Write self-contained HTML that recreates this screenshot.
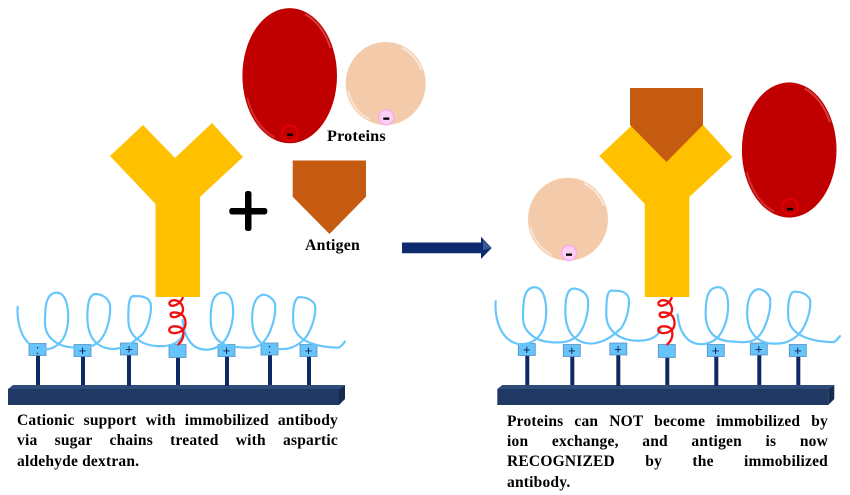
<!DOCTYPE html>
<html><head><meta charset="utf-8"><style>
html,body{margin:0;padding:0;background:#fff}
#p{position:relative;width:850px;height:495px;overflow:hidden;background:#fff;font-family:"Liberation Serif",serif}
svg{position:absolute;left:0;top:0}
.t{position:absolute;width:321px;font-weight:bold;font-size:15.5px;line-height:20.4px;color:#000;letter-spacing:.2px}
.t div{text-align:justify;text-align-last:justify;white-space:nowrap}
.t div.l{text-align-last:left}
</style></head><body><div id="p">
<svg width="850" height="495" viewBox="0 0 850 495">
<defs>
<g id="base">
<polygon points="8,389 13,385 345,385 339,389" fill="#2f4b78"/>
<rect x="8" y="389" width="331" height="16" fill="#1f3864"/>
<polygon points="339,389 345,385 345,399 339,405" fill="#172b4e"/>
<g fill="#0d2a66">
<rect x="36" y="355" width="4" height="30"/><rect x="81" y="356" width="4" height="29"/><rect x="127" y="355" width="4" height="31"/><rect x="176" y="356" width="4" height="29"/><rect x="225" y="356" width="4" height="30"/><rect x="268" y="355" width="4" height="30"/><rect x="307" y="356" width="4" height="29"/>
</g>
<g fill="#66c4fb" stroke="#5a8fc0" stroke-width=".8">
<rect x="29" y="343.500" width="17" height="12"/><rect x="74" y="344.500" width="17" height="12"/><rect x="120.500" y="343" width="17" height="12"/><rect x="169" y="344.500" width="17" height="13"/><rect x="218" y="344.500" width="17" height="12"/><rect x="261" y="343" width="17" height="12"/><rect x="300" y="344.500" width="17" height="12"/>
</g>
</g>
<path id="a" fill="none" stroke="#66c6fb" stroke-width="6.5" stroke-linecap="round" d="M53,80 C50,130 65,195 120,208 C160,213 190,190 200,150 C210,110 205,38 170,38 C135,38 135,90 135,130 C135,170 170,195 200,200 C240,207 270,205 290,190 C320,170 333,110 330,75 C325,50 300,42 285,42 C265,45 262,80 262,110 C262,160 280,205 340,207 C380,205 410,180 430,160 C450,130 455,90 452,70 C445,48 420,48 400,48 C385,50 385,85 385,120 C385,165 420,195 470,198 C500,200 535,195 548,165"/>
<path id="b" fill="none" stroke="#66c6fb" stroke-width="6.5" stroke-linecap="round" d="M548,120 C552,170 575,210 620,209 C660,208 680,180 690,150 C705,110 705,38 670,38 C635,38 632,80 632,120 C632,160 650,195 700,200 C730,203 760,207 780,195 C810,175 830,110 825,70 C815,48 795,42 785,45 C760,55 755,90 757,130 C760,170 785,205 830,207 C860,209 880,205 905,185 C930,165 950,110 945,75 C935,55 910,50 895,52 C880,60 878,100 880,130 C885,175 930,200 1015,203 C1025,200 1030,190 1035,185"/>
<path id="c" fill="none" stroke="#f01010" stroke-width="7" stroke-linecap="round" d="M548,54 C540,72 520,82 510,75 C503,65 518,58 530,62 C545,66 552,85 548,95 C540,110 515,118 512,105 C510,95 530,95 545,103 C560,115 560,140 548,150 C530,165 505,160 508,148 C512,135 535,138 545,145 C555,160 550,180 535,193"/>
<polygon id="y" points="110,156 143,125 175,158 212,123 243,157 200,197 200,297 155.500,297 155.500,204"/>
<g id="red"><ellipse cx="0" cy="0" rx="47.300" ry="67.600" fill="#c00000"/>
<path d="M15.400,-61.500 A45,65.500 0 0 1 40.800,-27.700" fill="none" stroke="#e87070" stroke-width="2" stroke-opacity=".55"/>
<path d="M-42.300,22.400 A45,65.500 0 0 0 -15.400,61.500" fill="none" stroke="#e05050" stroke-width="2" stroke-opacity=".55"/></g>
<g id="pe"><ellipse cx="0" cy="0" rx="40" ry="41.500" fill="#f4cbaa"/>
<path d="M16,-35.800 A38,39.500 0 0 1 35.700,-13.500" fill="none" stroke="#fff" stroke-width="2" stroke-opacity=".55"/>
<path d="M-37.400,6.900 A38,39.500 0 0 0 -16,35.800" fill="none" stroke="#fff" stroke-width="2" stroke-opacity=".45"/></g>
</defs>

<use href="#base"/>
<use href="#base" x="489.300"/>

<g transform="translate(0,280) scale(.3333)"><use href="#a"/><use href="#b"/><use href="#c"/></g>
<g transform="translate(478,274.600) scale(.3333)"><use href="#a"/></g>
<g transform="translate(495,274.500) scale(.3333)"><use href="#b"/></g>
<g transform="translate(489,280) scale(.3333)"><use href="#c"/></g>

<g font-family="'Liberation Sans',sans-serif" font-size="13" text-anchor="middle" fill="#0a2050">
<text x="37.500" y="354">:</text><text x="82.500" y="355">+</text><text x="129" y="353.500">+</text><text x="226.500" y="355">+</text><text x="269.500" y="353">:</text><text x="308.500" y="355">+</text>
<text x="526.800" y="354">+</text><text x="571.800" y="355">+</text><text x="618" y="353.500">+</text><text x="715.500" y="355">+</text><text x="758.800" y="353.500">+</text><text x="797.800" y="355">+</text>
</g>

<use href="#y" fill="#ffc000"/>
<use href="#y" fill="#ffc000" x="489.300"/>
<polygon points="292.700,160.500 366,160.500 366,196.700 329.500,234 292.700,196.700" fill="#c55a11"/>
<polygon points="630,88 703,88 703,125 666.500,162 630,125" fill="#c55a11"/>

<use href="#red" x="289.700" y="75.700"/>
<circle cx="290" cy="133" r="7.800" fill="#c00000" stroke="#f00000" stroke-width="1.400"/>
<rect x="287" y="133.500" width="6" height="2.300" fill="#000"/>

<use href="#pe" x="385.700" y="83.500"/>
<circle cx="386.300" cy="117.300" r="7.500" fill="#fcd0f4" stroke="#f8a8ee" stroke-width="1.300"/>
<rect x="383.300" y="117.500" width="6" height="2.300" fill="#000"/>

<use href="#red" x="789.200" y="150"/>
<circle cx="790" cy="206.700" r="7.800" fill="#c00000" stroke="#f00000" stroke-width="1.400"/>
<rect x="787" y="208" width="6" height="2.300" fill="#000"/>

<use href="#pe" x="568" y="219.200"/>
<circle cx="569" cy="253" r="7.500" fill="#fcd0f4" stroke="#f8a8ee" stroke-width="1.300"/>
<rect x="566" y="253.500" width="6" height="2.300" fill="#000"/>

<rect x="245" y="191" width="6.500" height="40" rx="2.500" fill="#000"/>
<rect x="229.300" y="208" width="38" height="6.500" rx="2.500" fill="#000"/>

<polygon points="402,242.500 481,242.500 481,236.700 491.700,248 481,259 481,253.300 402,253.300" fill="#0e2a6e"/>
<polygon points="483,240 491,248 483,250" fill="#3a5a9a"/>

<text x="327" y="141" font-family="'Liberation Serif',serif" font-weight="bold" font-size="16.200" letter-spacing=".2">Proteins</text>
<text x="305" y="250" font-family="'Liberation Serif',serif" font-weight="bold" font-size="15.800" letter-spacing=".2">Antigen</text>
</svg>
<div class="t" style="left:17px;top:411px"><div>Cationic support with immobilized antibody</div><div>via sugar chains treated with aspartic</div><div class="l">aldehyde dextran.</div></div>
<div class="t" style="left:507px;top:411.500px"><div>Proteins can NOT become immobilized by</div><div>ion exchange, and antigen is now</div><div>RECOGNIZED by the immobilized</div><div class="l">antibody.</div></div>
</div></body></html>
